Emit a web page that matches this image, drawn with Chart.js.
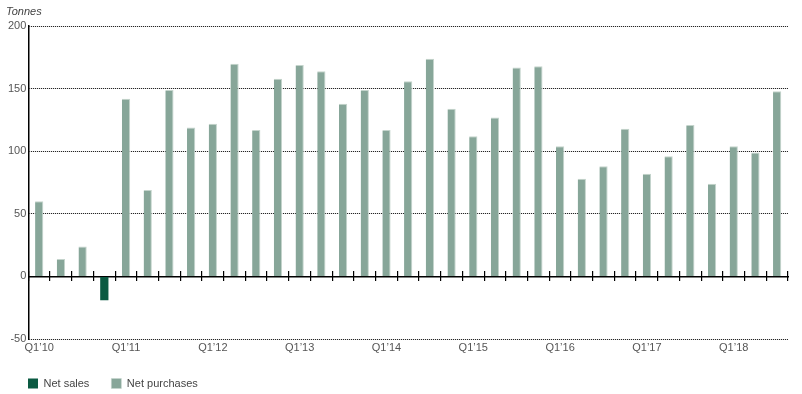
<!DOCTYPE html>
<html>
<head>
<meta charset="utf-8">
<script src="https://cdn.jsdelivr.net/npm/chart.js@4.4.1/dist/chart.umd.min.js"></script>
<style>
  html, body { margin: 0; padding: 0; background: #fff; }
  #wrap { width: 802px; height: 394px; }
</style>
</head>
<body>
<div id="wrap"><canvas id="grafico"></canvas></div>
<script>
// trimestres Q1'10 .. Q3'18
const quarters = [];
for (let yr = 10; yr <= 18; yr++) {
  for (let q = 1; q <= 4; q++) {
    if (yr === 18 && q > 3) break;
    quarters.push("Q" + q + "’" + yr);
  }
}

const netSales = [null, null, null, -19, null, null, null, null, null, null, null, null,
  null, null, null, null, null, null, null, null, null, null, null, null,
  null, null, null, null, null, null, null, null, null, null, null];

const netPurchases = [60, 14, 24, null, 142, 69, 149, 119, 122, 170, 117, 158,
  169, 164, 138, 149, 117, 156, 174, 134, 112, 127, 167, 168,
  104, 78, 88, 118, 82, 96, 121, 74, 104, 99, 148];

const yTicks = [-50, 0, 50, 100, 150, 200];

const fonte = { family: "'Liberation Sans', Arial, sans-serif", size: 11 };

const ctx = document.getElementById("grafico").getContext("2d");

new Chart(ctx, {
  type: "bar",
  data: {
    labels: quarters,
    datasets: [
      {
        label: "Net sales",
        data: netSales,
        backgroundColor: "#0b5a42",
        barPercentage: 0.38,
        categoryPercentage: 1,
      },
      {
        label: "Net purchases",
        data: netPurchases,
        backgroundColor: "#87a699",
        borderColor: "#c4d4cc",
        borderWidth: { top: 1, right: 1, left: 0, bottom: 0 },
        barPercentage: 0.38,
        categoryPercentage: 1,
      },
    ],
  },
  options: {
    responsive: true,
    maintainAspectRatio: false,
    animation: false,
    layout: { padding: { left: 6, right: 14, top: 5, bottom: -5 } },
    scales: {
      x: {
        stacked: true,
        grid: { display: false, drawTicks: false },
        border: { display: false },
        ticks: {
          autoSkip: false,
          maxRotation: 0,
          padding: 3,
          color: "#555",
          font: { family: fonte.family, size: 11, lineHeight: 1 },
          callback: function (value, index) {
            return index % 4 === 0 ? quarters[index] : "";
          },
        },
      },
      // marquinhas que cruzam a linha do zero
      x2: {
        type: "category",
        position: { y: 4 },
        grid: {
          offset: true,
          drawOnChartArea: false,
          drawTicks: true,
          tickLength: 10,
          color: "#000",
          lineWidth: 1.2,
        },
        border: { display: false },
        ticks: { display: false },
      },
      // linha do zero
      x3: {
        type: "category",
        position: { y: 0 },
        grid: { display: false, drawTicks: false },
        border: { display: true, color: "#000", width: 1.5 },
        ticks: { display: false },
      },
      y: {
        stacked: true,
        min: yTicks[0],
        max: yTicks[yTicks.length - 1],
        afterBuildTicks: function (axis) {
          axis.ticks = yTicks.map(function (v) { return { value: v }; });
        },
        grid: {
          drawTicks: false,
          lineWidth: 1,
          color: function (c) { return c.tick && c.tick.value === 0 ? "rgba(0,0,0,0)" : "#000"; },
        },
        border: {
          color: "#000",
          width: 1.5,
          dash: [1, 1],
          // alinhar os pontinhos com os pixels
          dashOffset: function (c) {
            const l = c.chart.chartArea ? c.chart.chartArea.left : 0;
            return l - Math.floor(l);
          },
        },
        ticks: {
          padding: 2,
          color: "#555",
          font: fonte,
        },
      },
    },
    plugins: {
      title: {
        display: true,
        text: "Tonnes",
        align: "start",
        color: "#444",
        font: { family: fonte.family, size: 11, style: "italic", weight: "normal" },
        padding: { top: 0, bottom: 8 },
      },
      legend: {
        position: "bottom",
        align: "start",
        labels: {
          boxWidth: 10,
          boxHeight: 10,
          padding: 22,
          color: "#444",
          font: fonte,
        },
      },
      tooltip: { enabled: false },
    },
  },
});
</script>
</body>
</html>
